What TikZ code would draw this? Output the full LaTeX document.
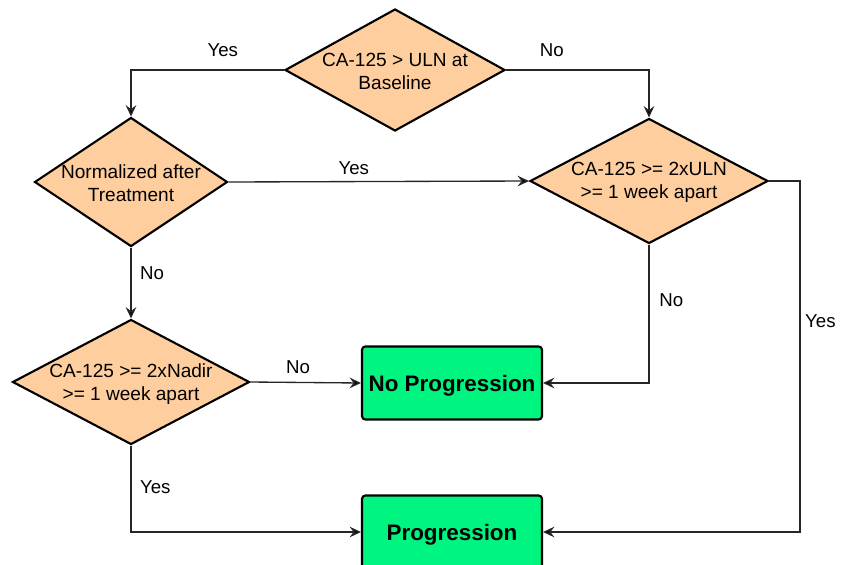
\documentclass[tikz,border=0pt]{standalone}
\usepackage{fontspec}
\setmainfont{Liberation Sans}
\usetikzlibrary{shapes.geometric,arrows.meta}

\definecolor{diafill}{RGB}{255,206,159}
\definecolor{outfill}{RGB}{0,245,128}

\begin{document}
\begin{tikzpicture}[x=0.75pt, y=-0.75pt,
        decision/.style={diamond, draw, line width=1.6pt, fill=diafill, inner sep=0pt},
        dtext/.style={align=center, yshift=-1.2pt, font=\fontsize{14.3}{17.3}\selectfont},
        outcome/.style={rectangle, rounded corners=2.5pt, draw, line width=1.6pt, fill=outfill,
            minimum width=135pt, minimum height=54.75pt, text depth=0pt, font=\fontsize{16.8}{20}\selectfont\bfseries},
        flow/.style={draw=black!85, line width=1pt, -{Stealth[length=8.5pt,width=8pt,inset=3pt,fill=black]}},
        lbl/.style={font=\fontsize{14}{17}\selectfont}]
        \useasboundingbox (0,0) rectangle (841,564);
        \node[decision, minimum width=165pt, minimum height=91.5pt,
            label={[dtext]center:CA-125 > ULN at\\Baseline}] (base) at (395,70) {};
        \node[decision, minimum width=144.75pt, minimum height=96.75pt,
            label={[dtext]center:Normalized after\\Treatment}] (norm) at (131,182) {};
        \node[decision, minimum width=178.5pt, minimum height=93.75pt,
            label={[dtext]center:CA-125 >= 2xULN\\>= 1 week apart}] (uln) at (649,181) {};
        \node[decision, minimum width=177.75pt, minimum height=93.75pt,
            label={[dtext]center:CA-125 >= 2xNadir\\>= 1 week apart}] (nadir) at (131,382) {};
        \node[outcome] (noprog) at (452,383) {No Progression};
        \node[outcome] (prog) at (452,532) {Progression};
        \coordinate (rturn) at (800,181);
        % baseline split
        \draw[flow] (base.west) -| (norm.north) node[lbl, pos=0.2, above=6pt] {Yes};
        \draw[flow] (base.east) -| (uln.north) node[lbl, pos=0.16, above=6pt] {No};
        \draw[flow] (norm.east) -- (uln.west) node[lbl, pos=0.417, above=1pt] {Yes};
        \draw[flow] (norm.south) -- (nadir.north) node[lbl, pos=0.36, right=3pt] {No};
        % outcomes
        \draw[flow] (nadir.east) -- (noprog.west) node[lbl, pos=0.43, above=3pt] {No};
        \draw[flow] (nadir.south) |- (prog.west) node[lbl, pos=0.24, right=3pt] {Yes};
        \draw[flow] (uln.south) |- (noprog.east) node[lbl, pos=0.2, right=4pt] {No};
        \draw[flow] (uln.east) -- (rturn) |- node[lbl, pos=0.2, right=0pt] {Yes} (prog.east);
    \end{tikzpicture}
\end{document}
